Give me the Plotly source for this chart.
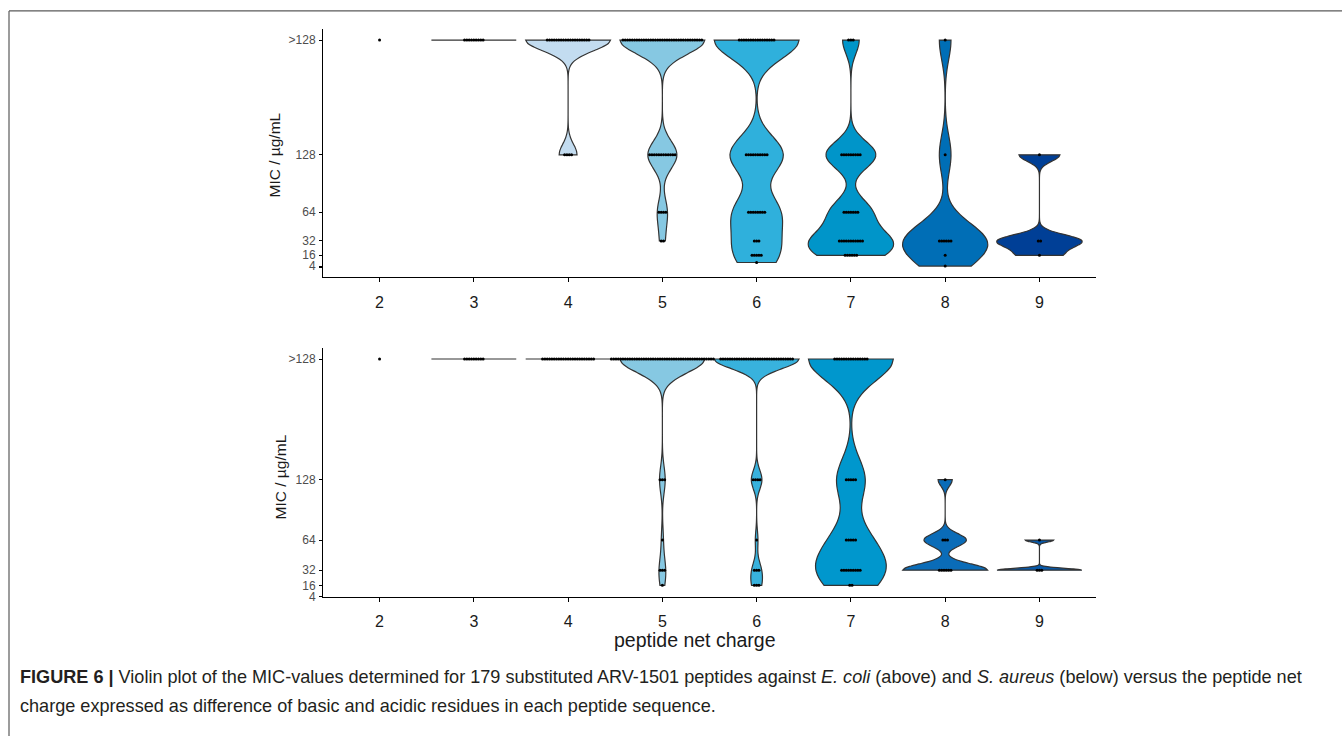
import numpy as np
import plotly.graph_objects as go

# ---------------- data ----------------
charges = [2, 3, 4, 5, 6, 7, 8, 9]
mic_levels = [256, 128, 64, 32, 16, 8, 4]          # 256 stands for ">128"
mic_tick_vals = [2, 4, 16, 32, 64, 128, 256]
mic_tick_text = ["", "4", "16", "32", "64", "128", ">128"]

# E. coli: number of peptides per MIC level, for charges 2..9
ecoli_gt128 = [1, 9, 19, 35, 16, 3, 1, 0]
ecoli_128 = [0, 0, 4, 12, 10, 9, 1, 1]
ecoli_64 = [0, 0, 0, 4, 8, 7, 0, 0]
ecoli_32 = [0, 0, 0, 2, 3, 11, 6, 2]
ecoli_16 = [0, 0, 0, 0, 5, 6, 1, 1]
ecoli_8 = [0, 0, 0, 0, 1, 0, 0, 0]
ecoli_4 = [0, 0, 0, 0, 0, 0, 1, 0]

# S. aureus: number of peptides per MIC level, for charges 2..9
saureus_gt128 = [1, 9, 23, 45, 32, 15, 0, 0]
saureus_128 = [0, 0, 0, 3, 4, 5, 1, 0]
saureus_64 = [0, 0, 0, 1, 1, 5, 3, 1]
saureus_32 = [0, 0, 0, 3, 3, 9, 6, 3]
saureus_16 = [0, 0, 0, 1, 3, 2, 0, 0]
saureus_8 = [0, 0, 0, 0, 0, 0, 0, 0]
saureus_4 = [0, 0, 0, 0, 0, 0, 0, 0]

ecoli_colors = ["#c3dcf0", "#c3dcf0", "#c3dcf0", "#86c8e2", "#2fb0dc", "#0095c9", "#006eb6", "#003f96"]
saureus_colors = ["#c3dcf0", "#c3dcf0", "#c3dcf0", "#86c8e2", "#38b2dd", "#0097cd", "#0a6cb8", "#0758a8"]

ecoli_table = [ecoli_gt128, ecoli_128, ecoli_64, ecoli_32, ecoli_16, ecoli_8, ecoli_4]
saureus_table = [saureus_gt128, saureus_128, saureus_64, saureus_32, saureus_16, saureus_8, saureus_4]

# ---------------- helpers ----------------
VIOLIN_WIDTH = 0.9
DOT_STEP = 0.0246
ADJUST = 0.5


def nrd0(x):
    x = np.asarray(x, float)
    hi = np.std(x, ddof=1)
    q75, q25 = np.percentile(x, [75, 25])
    lo = min(hi, (q75 - q25) / 1.34)
    if not lo:
        lo = hi or abs(x[0]) or 1.0
    return 0.9 * lo * len(x) ** -0.2


fig = go.Figure()


def add_panel(table, colors, xa, ya):
    for ci, c in enumerate(charges):
        counts = [row[ci] for row in table]
        vals = np.repeat(mic_levels, counts).astype(float)
        if len(vals) == 0:
            continue
        if len(vals) >= 2 and vals.min() == vals.max():
            v = vals[0]
            fig.add_trace(go.Scatter(
                x=[c - VIOLIN_WIDTH / 2, c + VIOLIN_WIDTH / 2], y=[v, v],
                mode="lines", line=dict(color="#333333", width=1.2),
                xaxis=xa, yaxis=ya, showlegend=False, hoverinfo="skip"))
        elif len(vals) >= 2:
            fig.add_trace(go.Violin(
                x=[c] * len(vals), y=vals,
                bandwidth=ADJUST * nrd0(vals),
                spanmode="hard", scalemode="width", width=VIOLIN_WIDTH,
                fillcolor=colors[ci], line=dict(color="#333333", width=1.2),
                points=False, box_visible=False, meanline_visible=False,
                xaxis=xa, yaxis=ya, showlegend=False, hoverinfo="skip"))
    # dot rows
    dx, dy = [], []
    for ci, c in enumerate(charges):
        for li, lvl in enumerate(mic_levels):
            k = table[li][ci]
            if k <= 0:
                continue
            offs = (np.arange(k) - (k - 1) / 2) * DOT_STEP
            dx.extend(list(c + offs))
            dy.extend([lvl] * k)
    fig.add_trace(go.Scatter(
        x=dx, y=dy, mode="markers",
        marker=dict(color="black", size=3, line=dict(width=0)),
        xaxis=xa, yaxis=ya, showlegend=False, hoverinfo="skip"))


add_panel(ecoli_table, ecoli_colors, "x", "y")
add_panel(saureus_table, saureus_colors, "x2", "y2")

W, H = 1342, 743
xdom = [323 / W, 1096 / W]

xcommon = dict(
    domain=xdom, range=[1.4, 9.6], tickvals=charges, ticktext=[str(c) for c in charges],
    showline=True, linecolor="#000000", linewidth=1, ticks="outside", ticklen=4,
    tickcolor="#000000", tickfont=dict(family="Liberation Sans, Arial", size=16, color="#1a1a1a"),
    showgrid=False, zeroline=False, ticklabelstandoff=6)
ycommon = dict(
    tickvals=mic_tick_vals, ticktext=mic_tick_text,
    showline=True, linecolor="#000000", linewidth=1, ticks="outside", ticklen=3,
    tickcolor="#000000", tickfont=dict(family="Liberation Sans, Arial", size=12, color="#4d4d4d"),
    showgrid=False, zeroline=False, ticklabelstandoff=1)

fig.update_layout(
    width=W, height=H,
    margin=dict(l=0, r=0, t=0, b=0),
    paper_bgcolor="white", plot_bgcolor="white",
    violinmode="overlay",
    xaxis=dict(anchor="y", **xcommon),
    xaxis2=dict(anchor="y2", **xcommon),
    yaxis=dict(anchor="x", domain=[1 - 280 / H, 1 - 29 / H], range=[-8.6, 268.6], **ycommon),
    yaxis2=dict(anchor="x2", domain=[1 - 602.3 / H, 1 - 351 / H], range=[4, 268], **ycommon),
    font=dict(family="Liberation Sans, Arial"),
)

ann_font = dict(family="Liberation Sans, Arial", color="#1a1a1a")
fig.add_annotation(text="MIC / µg/mL", xref="paper", yref="paper", x=275 / W, y=1 - 157 / H,
                   xanchor="center", yanchor="middle",
                   textangle=-90, showarrow=False, font=dict(size=15.5, **ann_font))
fig.add_annotation(text="MIC / µg/mL", xref="paper", yref="paper", x=280 / W, y=1 - 482 / H,
                   xanchor="center", yanchor="middle",
                   textangle=-90, showarrow=False, font=dict(size=15.5, **ann_font))
fig.add_annotation(text="peptide net charge", xref="paper", yref="paper", x=695 / W, y=1 - 646 / H,
                   xanchor="center", yanchor="middle",
                   showarrow=False, font=dict(size=19.5, **ann_font))

cap_font = dict(family="Liberation Sans, Arial", size=18.1, color="#231f20")
fig.add_annotation(
    text="<b>FIGURE 6 |</b> Violin plot of the MIC-values determined for 179 substituted ARV-1501 peptides "
         "against <i>E. coli</i> (above) and <i>S. aureus</i> (below) versus the peptide net",
    xref="paper", yref="paper", x=18 / W, y=1 - 683 / H, xanchor="left", yanchor="middle",
    showarrow=False, font=cap_font)
fig.add_annotation(
    text="charge expressed as difference of basic and acidic residues in each peptide sequence.",
    xref="paper", yref="paper", x=18 / W, y=1 - 713 / H, xanchor="left", yanchor="middle",
    showarrow=False, font=cap_font)

# figure frame
fig.add_shape(type="line", xref="paper", yref="paper", x0=9 / W, x1=1, y0=1 - 11 / H, y1=1 - 11 / H,
              line=dict(color="#5a5a5a", width=1.2))
fig.add_shape(type="line", xref="paper", yref="paper", x0=9 / W, x1=9 / W, y0=0, y1=1 - 11 / H,
              line=dict(color="#5a5a5a", width=1.2))

fig.write_html("out.html", config={"displayModeBar": False},
               post_script="document.body.style.margin='0';document.body.style.overflow='hidden';")
